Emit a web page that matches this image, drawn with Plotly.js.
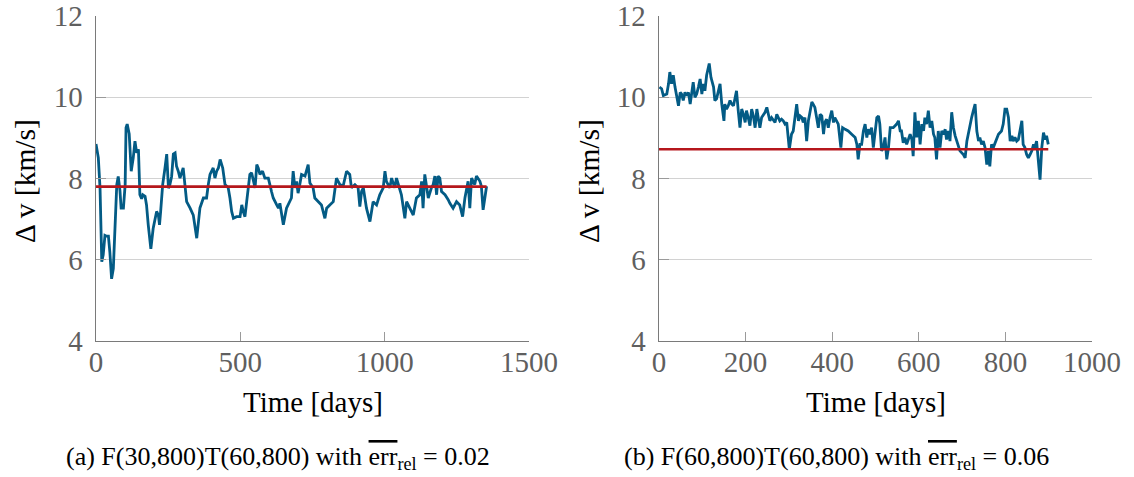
<!DOCTYPE html>
<html>
<head>
<meta charset="utf-8">
<script src="https://cdn.plot.ly/plotly-3.0.1.min.js"></script>
<style>
  html, body { margin: 0; padding: 0; background: #fff; }
  #chart { width: 1134px; height: 477px; }
</style>
</head>
<body>
<div id="chart"></div>
<script>
// Run (a): F(30,800)T(60,800) — velocity change over time
const daysA = [0, 8, 14, 20, 25, 31, 37, 43, 48, 54, 60, 66, 72, 77, 83, 87, 95, 101, 104, 108,
  115, 122, 129, 135, 141, 147, 152, 158, 162, 170, 175, 181, 187, 190, 198, 204, 210, 216, 220, 224,
  231, 239, 245, 251, 256, 262, 268, 274, 279, 285, 291, 302, 314, 326, 337, 349, 360, 372, 383, 389,
  395, 406, 412, 418, 424, 430, 439, 447, 458, 464, 470, 476, 487, 499, 505, 510, 516, 522, 528, 533,
  539, 545, 551, 557, 562, 568, 577, 585, 597, 608, 614, 626, 632, 637, 649, 660, 672, 677, 683, 689,
  695, 700, 706, 712, 724, 729, 735, 741, 752, 758, 770, 781, 793, 799, 810, 822, 833, 845, 856, 868,
  879, 885, 897, 908, 914, 920, 926, 937, 949, 955, 960, 972, 983, 995, 1001, 1006, 1018, 1024, 1035, 1041,
  1047, 1058, 1070, 1076, 1087, 1099, 1110, 1122, 1128, 1133, 1139, 1151, 1162, 1168, 1174, 1180, 1185, 1191, 1197, 1209,
  1220, 1226, 1237, 1249, 1260, 1270, 1278, 1284, 1289, 1295, 1301, 1312, 1318, 1330, 1335, 1341, 1347, 1353];
const deltaVA = [8.85, 8.51, 7.76, 5.95, 6.12, 6.60, 6.58, 6.58, 6.19, 5.53, 5.78, 6.86, 7.85, 8.05, 7.70, 7.27, 7.27, 7.85, 9.25, 9.34,
  9.10, 8.18, 8.51, 8.92, 8.63, 8.72, 7.60, 7.50, 7.60, 7.56, 7.35, 6.86, 6.44, 6.27, 6.77, 7.02, 7.19, 7.10, 6.86, 7.19,
  7.85, 8.26, 8.60, 7.76, 7.85, 8.05, 8.60, 8.63, 8.30, 8.18, 8.01, 8.26, 7.43, 7.27, 7.10, 6.53, 7.27, 7.52, 7.52, 7.85,
  8.10, 8.26, 8.01, 8.18, 8.26, 8.47, 8.26, 7.85, 7.77, 7.52, 7.19, 7.02, 7.06, 7.06, 7.35, 7.19, 7.06, 7.43, 7.77, 8.10,
  8.14, 7.93, 7.77, 8.34, 8.26, 8.10, 8.18, 8.01, 8.01, 7.68, 7.52, 7.35, 7.27, 7.39, 6.86, 7.27, 7.43, 7.52, 8.18, 7.77,
  7.93, 7.64, 7.85, 8.10, 8.06, 8.18, 8.34, 7.89, 7.77, 7.52, 7.43, 7.35, 7.02, 7.27, 7.35, 7.43, 8.01, 7.85, 7.81, 8.18,
  8.10, 7.77, 7.85, 7.77, 7.31, 7.68, 7.77, 7.27, 6.94, 7.27, 7.43, 7.35, 7.60, 7.77, 8.18, 7.93, 7.77, 8.01, 7.77, 8.01,
  7.85, 7.60, 7.02, 7.43, 7.27, 7.10, 7.52, 7.60, 7.93, 7.27, 8.10, 7.52, 7.77, 7.85, 8.06, 7.60, 8.06, 8.01, 7.68, 7.60,
  7.48, 7.39, 7.27, 7.43, 7.35, 7.06, 7.52, 7.77, 7.93, 7.27, 8.01, 7.85, 8.06, 7.93, 7.81, 7.23, 7.52, 7.81];
const meanA = 7.8;

// Run (b): F(60,800)T(60,800)
const daysB = [1, 6, 10, 18, 22, 25, 29, 33, 37, 41, 45, 49, 52, 56, 60, 64, 68, 72, 75, 79,
  83, 87, 91, 95, 99, 102, 106, 110, 116, 120, 126, 129, 133, 137, 141, 145, 150, 152, 156, 160,
  164, 168, 172, 176, 179, 183, 187, 191, 195, 199, 202, 206, 210, 214, 218, 222, 226, 229, 233, 237,
  245, 249, 253, 256, 260, 268, 272, 276, 279, 283, 287, 291, 295, 301, 306, 310, 314, 318, 322, 326,
  330, 333, 337, 341, 345, 349, 353, 356, 360, 364, 368, 372, 376, 380, 383, 387, 391, 395, 399, 403,
  406, 410, 414, 420, 424, 430, 437, 445, 453, 457, 460, 464, 468, 472, 476, 480, 483, 487, 491, 495,
  499, 503, 507, 510, 514, 518, 522, 526, 530, 534, 537, 541, 549, 553, 557, 560, 564, 568, 572, 580,
  584, 587, 591, 595, 599, 603, 607, 611, 614, 618, 622, 626, 630, 634, 637, 641, 645, 649, 653, 657,
  661, 664, 668, 672, 676, 680, 684, 688, 691, 695, 703, 707, 711, 714, 718, 722, 726, 730, 734, 738,
  741, 745, 749, 753, 757, 761, 764, 768, 772, 776, 780, 784, 791, 795, 799, 803, 807, 811, 815, 818,
  822, 826, 830, 834, 838, 841, 845, 849, 853, 857, 861, 865, 868, 872, 876, 880, 884, 888, 892, 895,
  899];
const deltaVB = [10.25, 10.21, 10.04, 10.08, 10.33, 10.62, 10.33, 10.54, 10.25, 9.96, 9.79, 10.12, 10.08, 9.92, 10.12, 10.04, 10.12, 9.83, 10.08, 10.37,
  10.00, 10.08, 10.25, 10.45, 10.08, 10.33, 10.16, 10.54, 10.83, 10.49, 10.25, 9.92, 9.96, 10.16, 10.33, 9.83, 9.42, 9.83, 9.71, 9.79,
  9.92, 9.83, 9.79, 10.00, 10.16, 9.67, 9.25, 9.71, 9.58, 9.38, 9.67, 9.50, 9.30, 9.71, 9.54, 9.25, 9.71, 9.50, 9.25, 9.50,
  9.63, 9.75, 9.54, 9.42, 9.50, 9.38, 9.58, 9.50, 9.42, 9.46, 9.42, 9.34, 9.38, 8.72, 9.09, 9.17, 9.50, 9.83, 9.42, 9.54,
  9.50, 9.38, 9.50, 8.92, 9.42, 9.71, 9.88, 9.83, 9.75, 9.50, 9.25, 9.58, 9.54, 9.09, 9.38, 9.46, 9.25, 9.50, 9.67, 9.38,
  9.50, 9.42, 9.34, 8.76, 9.25, 9.21, 9.17, 9.09, 9.01, 8.84, 8.47, 8.84, 8.84, 9.17, 9.34, 9.01, 9.21, 9.09, 9.25, 8.76,
  9.17, 9.50, 9.54, 9.34, 8.68, 8.76, 9.01, 8.47, 8.76, 9.25, 9.25, 9.25, 9.34, 9.42, 9.17, 9.17, 8.88, 9.01, 8.84, 9.09,
  8.96, 8.55, 9.63, 9.01, 9.42, 8.84, 9.34, 9.17, 9.50, 9.34, 9.67, 9.25, 9.42, 9.09, 9.01, 8.47, 9.17, 8.76, 9.17, 9.09,
  9.21, 8.96, 9.17, 8.92, 9.63, 9.25, 9.05, 8.92, 8.80, 8.68, 8.59, 8.51, 8.92, 9.09, 9.30, 9.50, 9.67, 9.83, 9.17, 8.92,
  9.01, 8.84, 8.92, 8.76, 8.34, 8.68, 8.30, 8.84, 8.76, 8.88, 9.01, 9.09, 9.17, 9.34, 9.71, 9.71, 9.50, 8.92, 9.05, 8.92,
  9.01, 8.92, 8.96, 9.17, 9.42, 8.84, 8.76, 8.59, 8.51, 8.59, 8.68, 8.84, 8.76, 8.92, 8.51, 7.97, 8.76, 9.13, 8.96, 9.05,
  8.84];
const meanB = 8.72;

const xTicksA = [0, 500, 1000, 1500];
const xTicksB = [0, 200, 400, 600, 800, 1000];
const yTicks = [4, 6, 8, 10, 12];

const BLUE = '#035b85';
const RED = '#b5171c';
const SERIF = "'Liberation Serif', 'Times New Roman', 'DejaVu Serif', serif";

const traces = [
  { x: daysA, y: deltaVA, xaxis: 'x', yaxis: 'y', type: 'scatter', mode: 'lines',
    line: { color: BLUE, width: 2.8 }, hoverinfo: 'skip' },
  { x: [daysA[0], daysA[daysA.length - 1]], y: [meanA, meanA], xaxis: 'x', yaxis: 'y',
    type: 'scatter', mode: 'lines', line: { color: RED, width: 2.6 }, hoverinfo: 'skip' },
  { x: daysB, y: deltaVB, xaxis: 'x2', yaxis: 'y2', type: 'scatter', mode: 'lines',
    line: { color: BLUE, width: 2.8 }, hoverinfo: 'skip' },
  { x: [0, daysB[daysB.length - 1]], y: [meanB, meanB], xaxis: 'x2', yaxis: 'y2',
    type: 'scatter', mode: 'lines', line: { color: RED, width: 2.6 }, hoverinfo: 'skip' }
];

const W = 1134, H = 477, T = 16, B = 136;
const plotH = H - T - B;
const px = v => v / W;
const py = v => (H - B - v) / plotH;

function xAxis(domain, range, ticks) {
  return {
    domain, range, tickvals: ticks, ticktext: ticks.map(String),
    ticks: 'inside', ticklen: 9, tickwidth: 1.2, tickcolor: '#9a9a9a',
    showline: true, linecolor: '#7a7a7a', linewidth: 1.4,
    showgrid: false, zeroline: false, fixedrange: true,
    ticklabelstandoff: -5,
    tickfont: { family: SERIF, size: 29, color: '#5f5f5f' }
  };
}
function yAxis(anchor) {
  return {
    anchor, range: [4, 12], tickvals: yTicks, ticktext: yTicks.map(String),
    ticks: 'inside', ticklen: 10, tickwidth: 1.2, tickcolor: '#9a9a9a',
    showline: true, linecolor: '#7a7a7a', linewidth: 1.4,
    showgrid: true, gridcolor: '#d2d2d2', gridwidth: 1.2,
    zeroline: false, fixedrange: true,
    ticklabelstandoff: 6,
    tickfont: { family: SERIF, size: 29, color: '#5f5f5f' }
  };
}

const label = (text, x, y, size, extra) => Object.assign({
  text, x: px(x), y: py(y), xref: 'paper', yref: 'paper',
  xanchor: 'center', yanchor: 'middle', showarrow: false,
  font: { family: SERIF, size, color: '#000' }
}, extra || {});

const errRel = '<span style="text-decoration:overline">err</span><sub>rel</sub>';

const layout = {
  width: W, height: H,
  margin: { l: 0, r: 0, t: T, b: B, pad: 0 },
  paper_bgcolor: '#fff', plot_bgcolor: '#fff',
  showlegend: false,
  font: { family: SERIF },
  xaxis: Object.assign(xAxis([96 / W, 529 / W], [0, 1500], xTicksA), { anchor: 'y' }),
  yaxis: yAxis('x'),
  xaxis2: Object.assign(xAxis([659 / W, 1092 / W], [0, 1000], xTicksB), { anchor: 'y2' }),
  yaxis2: yAxis('x2'),
  annotations: [
    label('Δ v [km/s]', 25, 181, 29.5, { textangle: -90 }),
    label('Δ v [km/s]', 589, 181, 29.5, { textangle: -90 }),
    label('Time [days]', 313, 402, 29),
    label('Time [days]', 876, 402, 29),
    label('(a) F(30,800)T(60,800) with ' + errRel + ' = 0.02', 278, 458, 26),
    label('(b) F(60,800)T(60,800) with ' + errRel + ' = 0.06', 836, 458, 26)
  ]
};

Plotly.newPlot('chart', traces, layout, { staticPlot: true, displayModeBar: false });
</script>
</body>
</html>
